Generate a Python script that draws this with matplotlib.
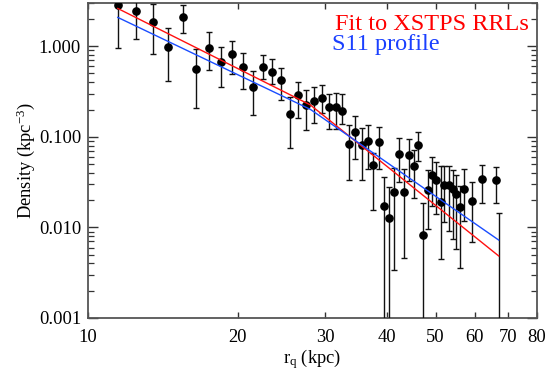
import matplotlib
matplotlib.use("Agg")
import matplotlib.pyplot as plt
from matplotlib.ticker import FixedLocator, FixedFormatter, LogLocator, NullLocator, NullFormatter
import numpy as np

# ---- data ----
r_kpc = [11.5, 12.5, 13.5, 14.5, 15.5, 16.5, 17.5, 18.5, 19.5, 20.5,
         21.5, 22.5, 23.5, 24.5, 25.5, 26.5, 27.5, 28.5, 29.5, 30.5,
         31.5, 32.5, 33.5, 34.5, 35.5, 36.5, 37.5, 38.5, 39.3, 40.3,
         41.3, 42.2, 43.2, 44.2, 45.3, 46.2, 47.2, 48.2, 49.2, 50.2,
         51.2, 52.0, 53.1, 54.1, 55.1, 56.1, 57.1, 59.1, 62.0, 66.1, 67.0]
density = [2.87, 2.42, 1.86, 0.99, 2.11, 0.566, 0.967, 0.670, 0.822, 0.596,
           0.354, 0.585, 0.525, 0.420, 0.180, 0.287, 0.222, 0.248, 0.268, 0.213,
           0.213, 0.192, 0.0830, 0.1137, 0.0802, 0.0888, 0.0494, 0.0866, 0.0171, 0.0127,
           0.0244, 0.0649, 0.0244, 0.0637, 0.0473, 0.0808, 0.00829, 0.0256, 0.0383, 0.0330,
           0.0190, 0.0297, 0.0297, 0.0266, 0.0236, 0.0166, 0.0268, 0.0194, 0.0343, 0.0337, 0.0]
dens_low = [0.95, 1.19, 0.815, 0.413, 1.39, 0.206, 0.547, 0.354, 0.498, 0.340,
            0.172, 0.431, 0.383, 0.252, 0.0753, 0.162, 0.118, 0.143, 0.181, 0.123,
            0.123, 0.137, 0.0331, 0.0576, 0.0337, 0.0438, 0.0154, 0.0443, 0.0, 0.0,
            0.0034, 0.0316, 0.00461, 0.0329, 0.0213, 0.0537, 0.0, 0.0095, 0.0171, 0.01398,
            0.00446, 0.01135, 0.00902, 0.00743, 0.00576, 0.00355, 0.01164, 0.00689, 0.0186, 0.0186, 0.0]
dens_high = [4.0, 3.5, 2.90, 1.57, 2.84, 0.926, 1.42, 0.99, 1.14, 0.852,
             0.533, 0.801, 0.718, 0.581, 0.277, 0.403, 0.326, 0.358, 0.373, 0.300,
             0.304, 0.300, 0.1334, 0.171, 0.126, 0.1345, 0.0666, 0.129, 0.0359, 0.0282,
             0.0454, 0.0976, 0.0443, 0.0958, 0.0724, 0.1137, 0.01875, 0.0435, 0.0598, 0.0527,
             0.0473, 0.0473, 0.0473, 0.0427, 0.0383, 0.0289, 0.0443, 0.0318, 0.0494, 0.0466, 0.0144]

# model profiles (broken power laws; straight segments in log-log)
fit_r = [11.48, 28.0, 67.0]
fit_density = [2.61, 0.225, 0.00484]
s11_r = [11.48, 28.0, 67.0]
s11_density = [2.08, 0.201, 0.00725]

x_ticks = [10, 20, 30, 40, 50, 60, 70, 80]
x_ticklabels = ["10", "20", "30", "40", "50", "60", "70", "80"]
y_ticks = [0.001, 0.01, 0.1, 1.0]
y_ticklabels = ["0.001", "0.010", "0.100", "1.000"]

# ---- style ----
plt.rcParams["font.family"] = ["Liberation Serif", "DejaVu Serif"]
plt.rcParams["mathtext.fontset"] = "custom"
plt.rcParams["mathtext.rm"] = "Liberation Serif"
plt.rcParams["mathtext.it"] = "Liberation Serif:italic"
plt.rcParams["mathtext.default"] = "rm"

fig = plt.figure(figsize=(5.45, 3.74), dpi=100)
ax = fig.add_axes([88 / 545, 1 - 318 / 374, (537 - 88) / 545, (318 - 3) / 374])
ax.set_xscale("log")
ax.set_yscale("log")

dens = np.array(density)
yerr = [dens - np.array(dens_low), np.array(dens_high) - dens]
ax.errorbar(r_kpc, dens, yerr=yerr, fmt="o", color="black", ms=5.2,
            ecolor="#111111", elinewidth=1.0, capsize=2, capthick=1.0, zorder=3)

ax.plot(fit_r, fit_density, color="#ff1010", lw=1.0, zorder=4)
ax.plot(s11_r, s11_density, color="#1a4dff", lw=1.0, zorder=4)

ax.set_xlim(10, 80)
ax.set_ylim(0.001, 3.0)

ax.xaxis.set_major_locator(FixedLocator(x_ticks))
ax.xaxis.set_major_formatter(FixedFormatter(x_ticklabels))
ax.xaxis.set_minor_locator(NullLocator())
ax.xaxis.set_minor_formatter(NullFormatter())
ax.yaxis.set_major_locator(FixedLocator(y_ticks))
ax.yaxis.set_major_formatter(FixedFormatter(y_ticklabels))
ax.yaxis.set_minor_locator(LogLocator(base=10, subs=np.arange(2, 10), numticks=20))
ax.yaxis.set_minor_formatter(NullFormatter())

ax.tick_params(axis="both", which="both", direction="in", top=True, right=True,
               labelsize=13.3, colors="#333333", labelcolor="black")
ax.tick_params(axis="y", which="major", length=7, width=1.0, pad=5)
ax.tick_params(axis="y", which="minor", length=4, width=0.9)
ax.tick_params(axis="x", which="major", length=4.5, width=1.0, pad=8)
for s in ax.spines.values():
    s.set_color("#555555")
    s.set_linewidth(1.3)

ax.set_xlabel(r"r$_\mathrm{q}$ (kpc)", fontsize=13.3, labelpad=0.5)
ax.set_ylabel(r"Density (kpc$^{-3}$)", fontsize=13.3, labelpad=1)

fig.text(529 / 545, 1 - 30 / 374, "Fit to XSTPS RRLs", color="#ff0000",
         fontsize=17.5, ha="right", va="baseline")
fig.text(332 / 545, 1 - 50 / 374, "S11 profile", color="#1a40ff",
         fontsize=17.5, ha="left", va="baseline")

fig.savefig("out.png", dpi=100)
